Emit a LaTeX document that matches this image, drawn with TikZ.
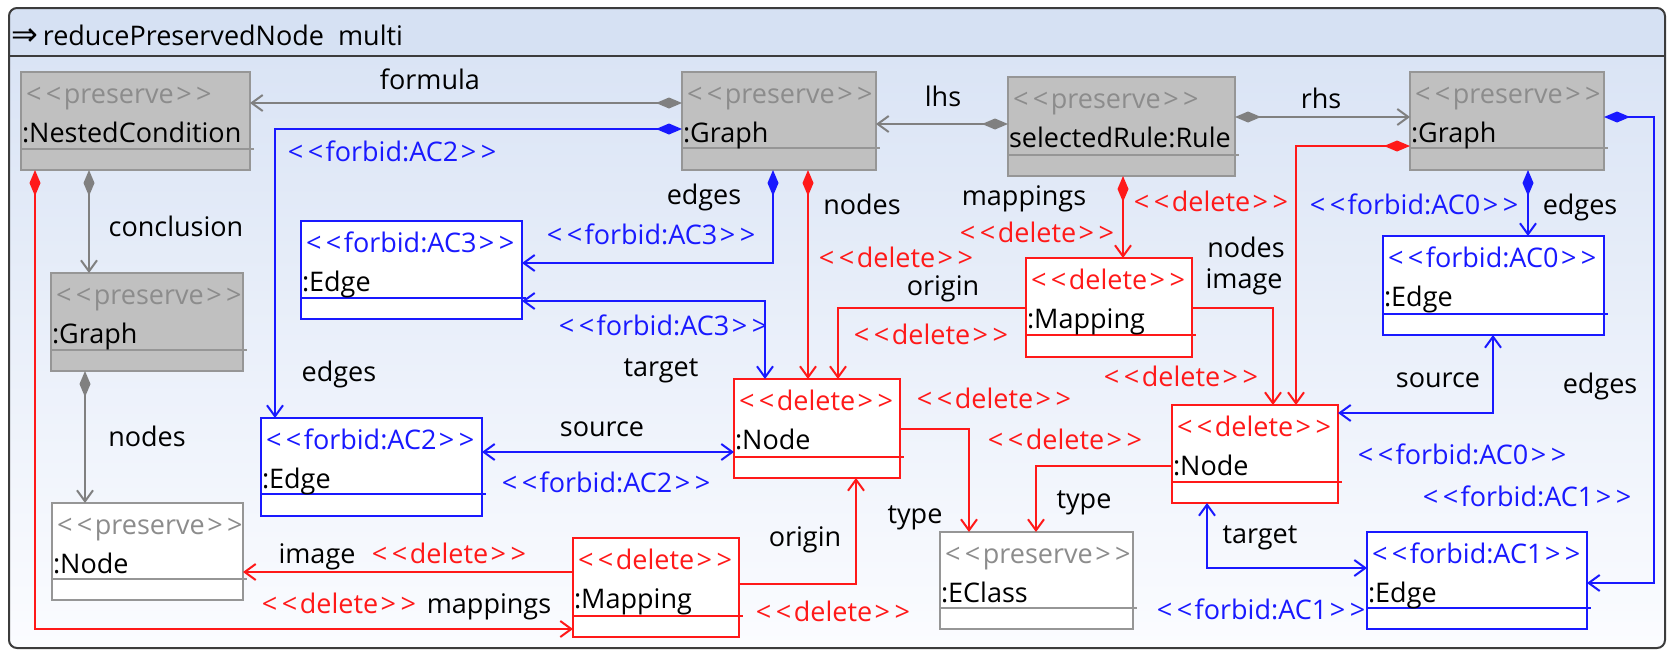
\documentclass[tikz,border=0pt]{standalone}
\usepackage{fontspec}
\setmainfont{Open Sans}
\newfontfamily\symfont{DejaVu Sans}
\usetikzlibrary{arrows.meta}
\definecolor{cred}{RGB}{255,25,25}
\definecolor{cblue}{RGB}{25,25,255}
\definecolor{cgrayt}{RGB}{140,140,140}
\definecolor{cgrayl}{RGB}{128,128,128}
\definecolor{cgrayf}{RGB}{192,192,192}
\definecolor{cgrayb}{RGB}{150,150,150}
\definecolor{hdr}{RGB}{214,225,243}
\definecolor{bgtop}{RGB}{218,228,245}
\definecolor{bgbot}{RGB}{251,252,255}
\definecolor{framec}{RGB}{60,60,60}
\newcommand\ster[1]{<\kern4.5pt<\kern2.5pt #1\kern2.5pt>\kern4.5pt>}
\tikzset{
  box/.style={inner sep=0pt, outer sep=0pt, line width=2pt},
  gry box/.style={draw=cgrayb, fill=cgrayf},
  wht box/.style={draw=cgrayb, fill=white},
  blu box/.style={draw=cblue, fill=white},
  rd box/.style={draw=cred, fill=white},
  gry sep/.style={draw=cgrayb, line width=2pt},
  wht sep/.style={draw=cgrayb, line width=2pt},
  blu sep/.style={draw=cblue, line width=2pt},
  rd sep/.style={draw=cred, line width=2pt},
  gry st/.style={text=cgrayt},
  wht st/.style={text=cgrayt},
  blu st/.style={text=cblue},
  rd st/.style={text=cred},
  txt/.style={inner sep=0pt, outer sep=0pt},
  lbl/.style={inner sep=0pt, outer sep=0pt, text height=19pt, text depth=6pt},
  gline/.style={draw=cgrayl, line width=2pt},
  rline/.style={draw=cred, line width=2pt},
  bline/.style={draw=cblue, line width=2pt},
  diaarr/.style={{Diamond[length=26pt,width=11pt]}-{Straight Barb[length=11pt,width=16pt]}},
  arrend/.style={-{Straight Barb[length=11pt,width=16pt]}},
  both/.style={{Straight Barb[length=11pt,width=16pt]}-{Straight Barb[length=11pt,width=16pt]}},
}
\newcommand\umlbox[9]{%
  \node[box, #7 box, minimum width=#4pt-#2pt, minimum height=#5pt-#3pt, anchor=north west] (#1) at (#2,#3) {};
  \draw[#7 sep] (#2,#6) -- (#4+4,#6);
  \node[txt, #7 st, anchor=base west] (#1-s) at (#2+5,#3+31) {\ster{#8}};
  \node[txt, anchor=base west] (#1-n) at (#2+1,#3+70) {#9};
}
\begin{document}
\begin{tikzpicture}[x=1pt,y=-1pt,font=\fontsize{27}{31}\selectfont]
\useasboundingbox (0,0) rectangle (1671,651);
\fill[white] (0,0) rectangle (1671,651);
% frame
\begin{scope}
  \clip[rounded corners=8pt] (9,8) rectangle (1665,648);
  \fill[hdr] (9,8) rectangle (1665,56);
  \shade[top color=bgtop, bottom color=bgbot] (9,56) rectangle (1665,648);
\end{scope}
\draw[framec, line width=2pt, rounded corners=8pt] (9,8) rectangle (1665,648);
\draw[framec, line width=2pt] (9,56) -- (1665,56);
\node[txt, anchor=base west] (title) at (12,45) {{\symfont\fontsize{32}{34}\selectfont ⇒}\kern4pt reducePreservedNode\ \ multi};

% boxes
\umlbox{nc}{21}{72}{250}{170}{149}{gry}{preserve}{:NestedCondition}
\umlbox{gm}{682}{72}{876}{170}{148}{gry}{preserve}{:Graph}
\umlbox{rule}{1008}{77}{1235}{176}{155}{gry}{preserve}{selectedRule:Rule}
\umlbox{gr}{1410}{72}{1604}{170}{148}{gry}{preserve}{:Graph}
\umlbox{gl}{51}{273}{243}{371}{350}{gry}{preserve}{:Graph}
\umlbox{nl}{52}{503}{243}{600}{579}{wht}{preserve}{:Node}
\umlbox{e3}{301}{221}{522}{319}{298}{blu}{forbid:AC3}{:Edge}
\umlbox{e2}{261}{418}{482}{516}{494}{blu}{forbid:AC2}{:Edge}
\umlbox{nm}{734}{379}{900}{478}{457}{rd}{delete}{:Node}
\umlbox{mm}{1026}{258}{1192}{357}{335}{rd}{delete}{:Mapping}
\umlbox{mb}{573}{538}{739}{637}{616}{rd}{delete}{:Mapping}
\umlbox{ec}{940}{532}{1133}{629}{608}{wht}{preserve}{:EClass}
\umlbox{nr}{1172}{405}{1338}{503}{482}{rd}{delete}{:Node}
\umlbox{e0}{1383}{236}{1604}{335}{314}{blu}{forbid:AC0}{:Edge}
\umlbox{e1}{1367}{532}{1587}{629}{608}{blu}{forbid:AC1}{:Edge}

% connectors
\draw[gline, diaarr] (gm.west |- 0,103) -- (nc.east |- 0,103);
\draw[bline, diaarr] (gm.west |- 0,129) -| (e2.north -| 275,0);
\draw[gline, diaarr] (nc.south -| 89,0) -- (gl.north -| 89,0);
\draw[gline, diaarr] (gl.south -| 85,0) -- (nl.north -| 85,0);
\draw[rline, diaarr] (nc.south -| 35,0) |- (mb.west |- 0,629);
\draw[gline, diaarr] (rule.west |- 0,124) -- (gm.east |- 0,124);
\draw[gline, diaarr] (rule.east |- 0,117) -- (gr.west |- 0,117);
\draw[bline, diaarr] (gm.south -| 773,0) |- (e3.east |- 0,263);
\draw[bline, both] (e3.east |- 0,301) -| (nm.north -| 765,0);
\draw[rline, diaarr] (gm.south -| 808,0) -- (nm.north -| 808,0);
\draw[rline, diaarr] (rule.south -| 1123,0) -- (mm.north -| 1123,0);
\draw[rline, arrend] (mm.west |- 0,308) -| (nm.north -| 838,0);
\draw[rline, arrend] (mm.east |- 0,308) -| (nr.north -| 1273,0);
\draw[rline, diaarr] (gr.west |- 0,146) -| (nr.north -| 1296,0);
\draw[bline, diaarr] (gr.south -| 1528,0) -- (e0.north -| 1528,0);
\draw[bline, both] (e0.south -| 1493,0) |- (nr.east |- 0,413);
\draw[bline, diaarr] (gr.east |- 0,117) -| (1654,583) -- (e1.east |- 0,583);
\draw[bline, both] (nr.south -| 1207,0) |- (e1.west |- 0,568);
\draw[rline, arrend] (nm.east |- 0,429) -| (ec.north -| 969,0);
\draw[rline, arrend] (nr.west |- 0,466) -| (ec.north -| 1036,0);
\draw[rline, arrend] (mb.east |- 0,584) -| (nm.south -| 856,0);
\draw[rline, arrend] (mb.west |- 0,572) -- (nl.east |- 0,572);
\draw[bline, both] (e2.east |- 0,452) -- (nm.west |- 0,452);

% labels
\node[lbl] (l1) at (430,83) {formula};
\node[lbl, text=cblue] (l2) at (392,155) {\ster{forbid:AC2}};
\node[lbl] (l3) at (176,230) {conclusion};
\node[lbl] (l4) at (339,375) {edges};
\node[lbl] (l5) at (147,440) {nodes};
\node[lbl, text=cred] (l6) at (339,607) {\ster{delete}};
\node[lbl] (l7) at (489,607) {mappings};
\node[lbl] (l8) at (317,557) {image};
\node[lbl, text=cred] (l9) at (449,557) {\ster{delete}};
\node[lbl] (l10) at (943,100) {lhs};
\node[lbl] (l11) at (1321,102) {rhs};
\node[lbl] (l12) at (704,198) {edges};
\node[lbl, text=cblue] (l13) at (651,238) {\ster{forbid:AC3}};
\node[lbl, text=cblue] (l14) at (663,329) {\ster{forbid:AC3}};
\node[lbl] (l15) at (661,370) {target};
\node[lbl] (l16) at (862,208) {nodes};
\node[lbl, text=cred] (l17) at (896,261) {\ster{delete}};
\node[lbl] (l18) at (1024,199) {mappings};
\node[lbl, text=cred] (l19) at (1037,236) {\ster{delete}};
\node[lbl, text=cred] (l20) at (1211,205) {\ster{delete}};
\node[lbl] (l21) at (943,289) {origin};
\node[lbl, text=cred] (l22) at (931,338) {\ster{delete}};
\node[lbl] (l23) at (1246,251) {nodes};
\node[lbl] (l24) at (1244,282) {image};
\node[lbl, text=cred] (l25) at (1181,380) {\ster{delete}};
\node[lbl, text=cred] (l26) at (994,402) {\ster{delete}};
\node[lbl, text=cred] (l27) at (1065,443) {\ster{delete}};
\node[lbl, text=cblue] (l28) at (1414,208) {\ster{forbid:AC0}};
\node[lbl] (l29) at (1580,208) {edges};
\node[lbl] (l30) at (1438,381) {source};
\node[lbl, text=cblue] (l31) at (1462,458) {\ster{forbid:AC0}};
\node[lbl] (l32) at (1600,387) {edges};
\node[lbl, text=cblue] (l33) at (1527,500) {\ster{forbid:AC1}};
\node[lbl] (l34) at (1260,537) {target};
\node[lbl, text=cblue] (l35) at (1261,613) {\ster{forbid:AC1}};
\node[lbl] (l36) at (915,517) {type};
\node[lbl] (l37) at (1084,502) {type};
\node[lbl] (l38) at (805,540) {origin};
\node[lbl] (l39) at (602,430) {source};
\node[lbl, text=cblue] (l40) at (606,486) {\ster{forbid:AC2}};
\node[lbl, text=cred] (l41) at (833,615) {\ster{delete}};
\end{tikzpicture}
\end{document}
